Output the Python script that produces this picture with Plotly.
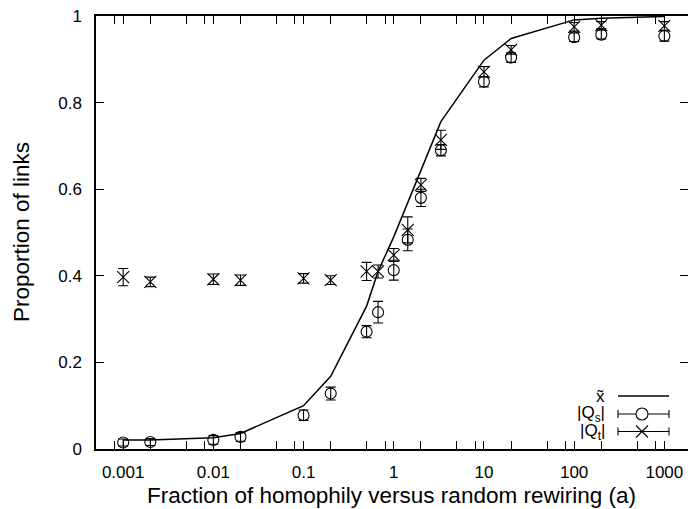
import plotly.graph_objects as go
import math

# Rewiring ratio a (homophily vs random)
a_vals = [0.001, 0.002, 0.01, 0.02, 0.1, 0.2, 0.5, 0.67, 1, 1.43, 2, 3.33,
          10, 20, 100, 200, 1000]

# Expected proportion x~ (solid curve)
x_tilde = [0.021, 0.021, 0.026, 0.036, 0.100, 0.168, 0.330, 0.410, 0.490,
           0.570, 0.643, 0.756, 0.898, 0.948, 0.991, 0.995, 0.999]

# |Q_s| measurements with error
qs_vals = [0.015, 0.016, 0.021, 0.028, 0.078, 0.128, 0.271, 0.316, 0.413,
           0.483, 0.580, 0.690, 0.848, 0.904, 0.951, 0.957, 0.954]
qs_err = [0.008, 0.008, 0.010, 0.010, 0.012, 0.015, 0.014, 0.025, 0.023,
          0.025, 0.020, 0.013, 0.012, 0.011, 0.010, 0.010, 0.012]

# |Q_t| measurements with error
qt_vals = [0.397, 0.386, 0.392, 0.390, 0.394, 0.390, 0.410, 0.410, 0.448,
           0.506, 0.610, 0.714, 0.871, 0.922, 0.975, 0.979, 0.977]
qt_err = [0.020, 0.011, 0.012, 0.012, 0.011, 0.010, 0.021, 0.015, 0.015,
          0.030, 0.015, 0.022, 0.012, 0.010, 0.010, 0.008, 0.010]

x_tickvals = [0.001, 0.01, 0.1, 1, 10, 100, 1000]
x_ticktext = ["0.001", "0.01", "0.1", "1", "10", "100", "1000"]
y_tickvals = [0, 0.2, 0.4, 0.6, 0.8, 1]
y_ticktext = ["0", "0.2", "0.4", "0.6", "0.8", "1"]

FONT = "Liberation Sans, Arial, sans-serif"
W, H = 688, 509
ML, MR, MT, MB = 96, 0, 16, 60
PLOT_W = W - ML - MR
PLOT_H = H - MT - MB
PX_PER_DECADE = 90.2
x_lo = math.log10(0.0005)
x_hi = x_lo + PLOT_W / PX_PER_DECADE

minor_vals = []
for e in range(-4, 4):
    for m in (2, 5, 8):
        v = m * 10 ** e
        if 10 ** x_lo < v < 10 ** x_hi:
            minor_vals.append(v)

fig = go.Figure()

fig.add_trace(go.Scatter(
    x=a_vals, y=x_tilde, mode="lines",
    line=dict(color="black", width=1.5), showlegend=False, hoverinfo="skip"))

fig.add_trace(go.Scatter(
    x=a_vals, y=qs_vals, mode="markers",
    marker=dict(symbol="circle-open", size=11, color="black",
                line=dict(width=1.1, color="black")),
    error_y=dict(type="data", array=qs_err, visible=True, color="black",
                 thickness=1.1, width=5),
    showlegend=False))

fig.add_trace(go.Scatter(
    x=a_vals, y=qt_vals, mode="markers",
    marker=dict(symbol="x-thin-open", size=12, color="black",
                line=dict(width=1.1, color="black")),
    error_y=dict(type="data", array=qt_err, visible=True, color="black",
                 thickness=1.1, width=5),
    showlegend=False))


# Hand-drawn key in the lower right corner (pixel positions -> paper)
def px(xp):
    return (xp - ML) / PLOT_W


def py(yp):
    return (MT + PLOT_H - yp) / PLOT_H


shapes = []
annotations = []
key_x0, key_x1, key_xm = 618, 669, 642
label_right = 607
rows = [("x\u0303", 396), ("|Q<sub>s</sub>|", 414), ("|Q<sub>t</sub>|", 431.5)]
for i, (label, yrow) in enumerate(rows):
    annotations.append(dict(
        x=px(label_right), y=py(yrow), xref="paper", yref="paper",
        text=label, showarrow=False, xanchor="right", yanchor="middle",
        font=dict(family=FONT, size=17, color="black")))
    lw = 1.5 if i == 0 else 1.1
    shapes.append(dict(type="line", xref="paper", yref="paper",
                       x0=px(key_x0), x1=px(key_x1), y0=py(yrow), y1=py(yrow),
                       line=dict(color="black", width=lw)))
    if i > 0:
        for xc in (key_x0, key_x1):
            shapes.append(dict(type="line", xref="paper", yref="paper",
                               x0=px(xc), x1=px(xc),
                               y0=py(yrow - 4), y1=py(yrow + 4),
                               line=dict(color="black", width=1.1)))
    if i == 1:
        shapes.append(dict(type="circle", xref="paper", yref="paper",
                           x0=px(key_xm - 6), x1=px(key_xm + 6),
                           y0=py(yrow - 6), y1=py(yrow + 6),
                           fillcolor="white",
                           line=dict(color="black", width=1.1)))
    if i == 2:
        for s in (1, -1):
            shapes.append(dict(type="line", xref="paper", yref="paper",
                               x0=px(key_xm - 6), x1=px(key_xm + 6),
                               y0=py(yrow - 6 * s), y1=py(yrow + 6 * s),
                               line=dict(color="black", width=1.1)))

# Axis titles
annotations.append(dict(
    x=px(391), y=py(496), xref="paper", yref="paper",
    text="Fraction of homophily versus random rewiring (a)",
    showarrow=False, xanchor="center", yanchor="middle",
    font=dict(family=FONT, size=22.5, color="black")))
annotations.append(dict(
    x=px(22), y=py(232), xref="paper", yref="paper",
    text="Proportion of links", textangle=-90,
    showarrow=False, xanchor="center", yanchor="middle",
    font=dict(family=FONT, size=22.5, color="black")))

fig.update_layout(
    width=W, height=H,
    margin=dict(l=ML, r=MR, t=MT, b=MB, pad=0),
    paper_bgcolor="white", plot_bgcolor="white",
    font=dict(family=FONT, size=17, color="black"),
    shapes=shapes, annotations=annotations,
    xaxis=dict(
        type="log", range=[x_lo, x_hi],
        tickmode="array", tickvals=x_tickvals, ticktext=x_ticktext,
        ticks="inside", ticklen=8, tickwidth=1.1, tickcolor="black",
        minor=dict(tickmode="array", tickvals=minor_vals, ticks="inside",
                   ticklen=4, tickwidth=1.1, tickcolor="black"),
        showline=True, linecolor="black", linewidth=1.5, mirror="allticks",
        showgrid=False, zeroline=False, ticklabelstandoff=7,
        tickfont=dict(family=FONT, size=17, color="black")),
    yaxis=dict(
        range=[0, 1], tickmode="array", tickvals=y_tickvals,
        ticktext=y_ticktext,
        ticks="inside", ticklen=8, tickwidth=1.1, tickcolor="black",
        showline=True, linecolor="black", linewidth=1.5, mirror=False,
        showgrid=False, zeroline=False, ticklabelstandoff=9,
        tickfont=dict(family=FONT, size=17, color="black")),
    yaxis2=dict(
        overlaying="y", side="right", range=[0, 1], tickmode="array",
        tickvals=y_tickvals, showticklabels=False,
        ticks="inside", ticklen=8, tickwidth=1.1, tickcolor="black",
        showline=False, showgrid=False, zeroline=False),
)

# Invisible trace that keeps the right-hand tick axis active
fig.add_trace(go.Scatter(x=[a_vals[0]], y=[0], yaxis="y2", mode="markers",
                         marker=dict(opacity=0), showlegend=False,
                         hoverinfo="skip"))

fig.write_html("out.html")
